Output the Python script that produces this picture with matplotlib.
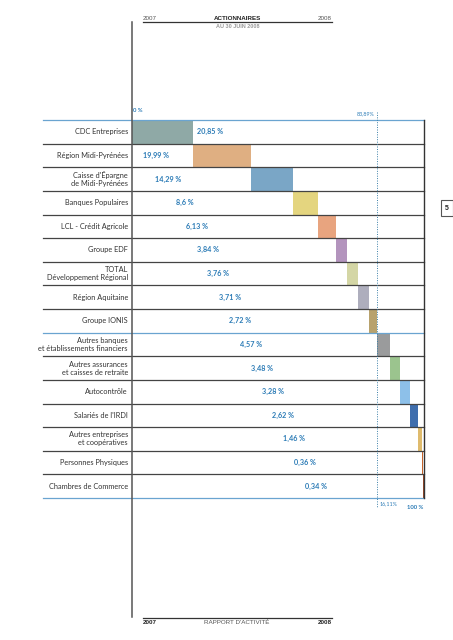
import matplotlib
matplotlib.use("Agg")
from matplotlib import pyplot as plt

# data
holders = [
    "CDC Entreprises",
    "Région Midi-Pyrénées",
    "Caisse d'Épargne\nde Midi-Pyrénées",
    "Banques Populaires",
    "LCL - Crédit Agricole",
    "Groupe EDF",
    "TOTAL\nDéveloppement Régional",
    "Région Aquitaine",
    "Groupe IONIS",
    "Autres banques\net établissements financiers",
    "Autres assurances\net caisses de retraite",
    "Autocontrôle",
    "Salariés de l'IRDI",
    "Autres entreprises\net coopératives",
    "Personnes Physiques",
    "Chambres de Commerce",
]
shares = [20.85, 19.99, 14.29, 8.6, 6.13, 3.84, 3.76, 3.71, 2.72,
          4.57, 3.48, 3.28, 2.62, 1.46, 0.36, 0.34]
bar_colors = ["#8FA9A6", "#DFAF82", "#7AA6C6", "#E4D57F", "#E8A47F", "#B394BD",
              "#D4D6A5", "#AEAEBD", "#B8A26D", "#9A9B9C", "#9BC48E", "#8DC0E9",
              "#3F6EAD", "#DFBB6D", "#C6642C", "#9C4A2A"]
n_main = 9  # first group, up to 83,89 %

# layout
label_x = [None, 3.8, 7.9, 15.1, 18.5, 22.3, 25.7, 29.8, 33.2, 37.0,
           40.8, 44.5, 47.9, 51.7, 55.5, 59.2]
BLUE = "#2B7BB6"
LINE_BLUE = "#6AA4D0"
DARK = "#444444"
FONT = "Lato"

W, H = 453, 640
fig = plt.figure(figsize=(W / 100, H / 100), dpi=100)
ax = fig.add_axes([132 / W, 1 - 498 / H, 292 / W, 378 / H])
ax.set_xlim(0, 100)
ax.set_ylim(len(holders), 0)
ax.axis("off")

lefts = []
acc = 0.0
for s in shares:
    lefts.append(acc)
    acc += s
split = lefts[n_main]

rows = [i + 0.5 for i in range(len(holders))]
ax.barh(rows, shares, left=lefts, height=1.0, color=bar_colors, zorder=2)

# value labels
for i, (s, l) in enumerate(zip(shares, lefts)):
    txt = str(s).replace(".", ",") + " %"
    x = l + s + 1.3 if label_x[i] is None else label_x[i]
    ax.text(x, rows[i], txt, color=BLUE, fontsize=5.2, fontweight="bold",
            family=FONT, ha="left", va="center", zorder=4)

# holder labels
for i, name in enumerate(holders):
    ax.text(-1.4, rows[i], name, color="#333333", fontsize=5.3, family=FONT,
            ha="right", va="center", multialignment="right",
            linespacing=1.15, clip_on=False)

# row separators
for b in range(len(holders) + 1):
    c = LINE_BLUE if b in (0, n_main, len(holders)) else DARK
    ax.plot([-30.5, 100], [b, b], color=c, lw=0.9, clip_on=False, zorder=3)
ax.plot([100, 100], [0, len(holders)], color="#333333", lw=1.0,
        clip_on=False, zorder=3)

# main vertical axis line
ax.plot([0, 0], [-4.15, 21.04], color="#555555", lw=1.1, clip_on=False, zorder=3)

# split dotted line
ax.plot([split, split], [-0.34, 16.42], color="#3A7FA8", lw=0.7,
        ls=(0, (1, 1.5)), clip_on=False, zorder=3)

ax.text(0.3, -0.42, "0 %", color=BLUE, fontsize=4.2, fontweight="bold",
        family=FONT, ha="left", va="center", clip_on=False)
ax.text(split - 0.7, -0.25, str(round(split, 2)).replace(".", ",") + "%",
        color=BLUE, fontsize=3.8, family=FONT, ha="right", va="center",
        clip_on=False)
ax.text(split + 1.0, 16.25, str(round(100 - split, 2)).replace(".", ",") + "%",
        color=BLUE, fontsize=3.8, family=FONT, ha="left", va="center",
        clip_on=False)
ax.text(94.2, 16.4, "100 %", color=BLUE, fontsize=4.2, fontweight="bold",
        family=FONT, ha="left", va="center", clip_on=False)

# header and footer
def hline(y):
    fig.add_artist(plt.Line2D([143 / W, 332 / W], [1 - y / H, 1 - y / H],
                              color="#333333", lw=0.9))

hline(22)
fig.text(143 / W, 1 - 18 / H, "2007", fontsize=4.5, color="#555555",
         family="Liberation Sans", ha="left", va="center")
fig.text(237 / W, 1 - 18 / H, "ACTIONNAIRES", fontsize=4.5, color="#222222",
         family="Liberation Sans", fontweight="bold", ha="center", va="center")
fig.text(332 / W, 1 - 18 / H, "2008", fontsize=4.5, color="#555555",
         family="Liberation Sans", ha="right", va="center")
fig.text(238 / W, 1 - 26 / H, "AU 30 JUIN 2008", fontsize=4, color="#999999",
         family="Liberation Sans", fontweight="bold", ha="center", va="center")

hline(618)
fig.text(143 / W, 1 - 623 / H, "2007", fontsize=4.5, color="#222222",
         family="Liberation Sans", fontweight="bold", ha="left", va="center")
fig.text(237 / W, 1 - 623 / H, "RAPPORT D'ACTIVITÉ", fontsize=4.5,
         color="#555555", family="Liberation Sans", ha="center", va="center")
fig.text(332 / W, 1 - 623 / H, "2008", fontsize=4.5, color="#222222",
         family="Liberation Sans", fontweight="bold", ha="right", va="center")

# page number tab
fig.text(447 / W, 1 - 208 / H, "5", fontsize=5, color="#222222",
         family="Liberation Sans", fontweight="bold", ha="center", va="center",
         bbox=dict(boxstyle="square,pad=0.6", fc="white", ec="#555555", lw=0.8))

fig.savefig("out.png", dpi=100)
